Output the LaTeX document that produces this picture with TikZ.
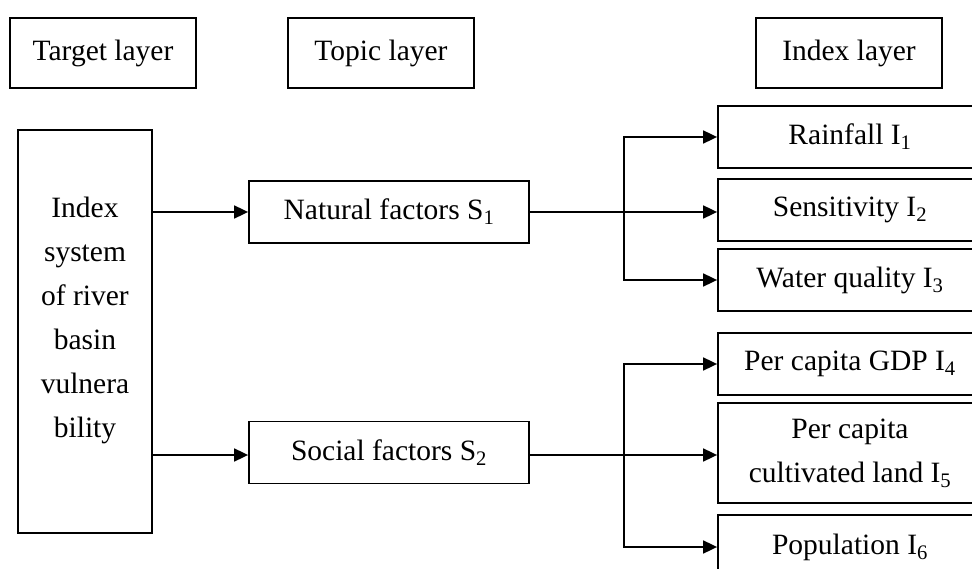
\documentclass[tikz,border=0pt]{standalone}
\usepackage{fontspec}
\setmainfont{Liberation Serif}
\usetikzlibrary{arrows.meta}

\begin{document}
\begin{tikzpicture}[x=1pt, y=-1pt, line width=1.8pt,
  every node/.style={font=\fontsize{29.5}{44}\selectfont, draw=black, inner sep=0pt, align=center},
  layerbox/.style={minimum width=186pt, minimum height=70pt},
  factorbox/.style={minimum width=280pt, minimum height=62pt},
  indexbox/.style={minimum width=264pt, minimum height=62pt},
  arr/.style={-{Triangle[length=14pt,width=13pt]}}]
\path[use as bounding box, clip] (0,0) rectangle (972,569);
% Layers
\node[layerbox] (target) at (103,53) {Target layer};
\node[layerbox] (topic) at (381,53) {Topic layer};
\node[layerbox] (index) at (849,53) {Index layer};
% Target layer
\node[minimum width=134pt, minimum height=403pt, text depth=28pt] (system) at (85,331.5) {Index\\system\\of river\\basin\\vulnera\\bility};
% Topic layer
\node[factorbox] (natural) at (389,212) {Natural factors S\textsubscript{1}};
\node[factorbox] (social) at (389,452.5) {Social factors S\textsubscript{2}};
% Index layer
\node[indexbox] (rain) at (850,137) {Rainfall I\textsubscript{1}};
\node[indexbox] (sens) at (850,210) {Sensitivity I\textsubscript{2}};
\node[indexbox] (water) at (850,280) {Water quality I\textsubscript{3}};
\node[indexbox] (gdp) at (850,364) {Per capita GDP I\textsubscript{4}};
\node[indexbox, minimum height=100pt] (land) at (850,453) {Per capita\\cultivated land I\textsubscript{5}};
\node[indexbox, minimum height=64pt] (pop) at (850,547) {Population I\textsubscript{6}};
% Connectors
\coordinate (natfork) at (624,212);
\coordinate (socfork) at (624,455);
\draw[arr] (system.east |- natural.west) -- (natural.west);
\draw[arr] (system.east |- socfork) -- (socfork -| social.west);
\draw[arr] (natural.east) -- (natural.east -| sens.west);
\draw[arr] (natfork) |- (rain.west);
\draw[arr] (natfork) |- (water.west);
\draw[arr] (social.east |- socfork) -- (land.west |- socfork);
\draw[arr] (socfork) |- (gdp.west);
\draw[arr] (socfork) |- (pop.west);
\end{tikzpicture}
\end{document}
